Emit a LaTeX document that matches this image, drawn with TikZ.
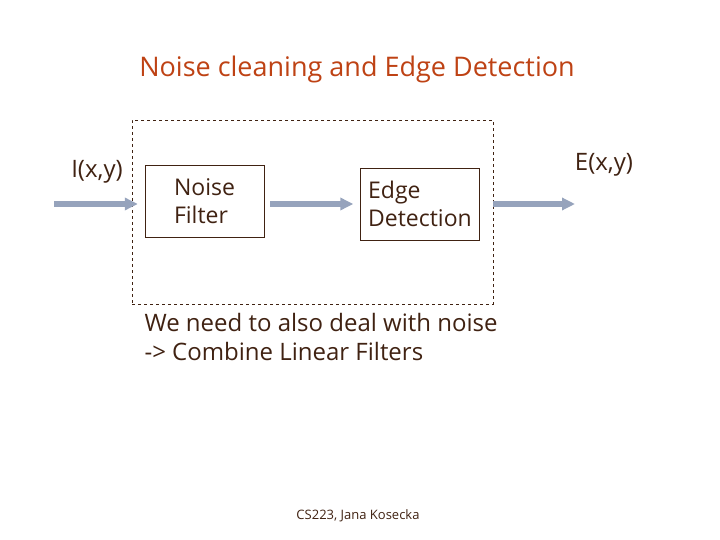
\documentclass[tikz,border=0pt]{standalone}
\usepackage{fontspec}
\setmainfont{Open Sans}
\definecolor{titlecol}{RGB}{190,66,20}
\definecolor{ink}{RGB}{64,34,18}
\definecolor{pipe}{RGB}{150,163,188}
\usetikzlibrary{arrows.meta,positioning,calc}
\tikzset{
  block/.style={draw=ink, thin, fill=white, align=left, text=ink,
                font=\fontsize{23}{28}\selectfont, minimum width=119pt, minimum height=72pt},
  frame/.style={draw=ink, dashed, thin, minimum width=361pt, minimum height=184pt},
  signal/.style={text=ink, font=\fontsize{24}{28}\selectfont},
  pipeflow/.style={draw=pipe, line width=6pt,
                   -{Triangle[length=13pt 0, width=12pt 0]}},
}
\begin{document}
\begin{tikzpicture}[x=1pt,y=-1pt]
  \useasboundingbox (0,0) rectangle (720,540);
  \node[text=titlecol, font=\fontsize{27}{32}\selectfont] (title) at (357,69) {Noise cleaning and Edge Detection};
  \node[frame] (sys) at (312.5,212) {};
  \node[block] (nf) at (204.5,201) {Noise\\Filter};
  \node[block] (ed) at (420,204) {Edge\\Detection};
  \coordinate (src) at (54,204);
  \coordinate (dst) at (575,204);
  \node[signal] (inlbl) at (97,172) {I(x,y)};
  \node[signal] (outlbl) at (604,165) {E(x,y)};
  % signal path
  \draw[pipeflow, shorten >=-6pt] (src) -- (src -| sys.west);
  \draw[pipeflow, shorten <=6pt, shorten >=7pt] (nf.east |- ed) -- (ed.west);
  \draw[pipeflow] (sys.east |- ed) -- (dst);
  \node[text=ink, anchor=north west, align=left, font=\fontsize{24}{29}\selectfont] (note) at (141,310)
    {We need to also deal with noise\\-> Combine Linear Filters};
  \node[text=ink, font=\fontsize{13}{15}\selectfont] (foot) at (358,516) {CS223, Jana Kosecka};
\end{tikzpicture}
\end{document}
